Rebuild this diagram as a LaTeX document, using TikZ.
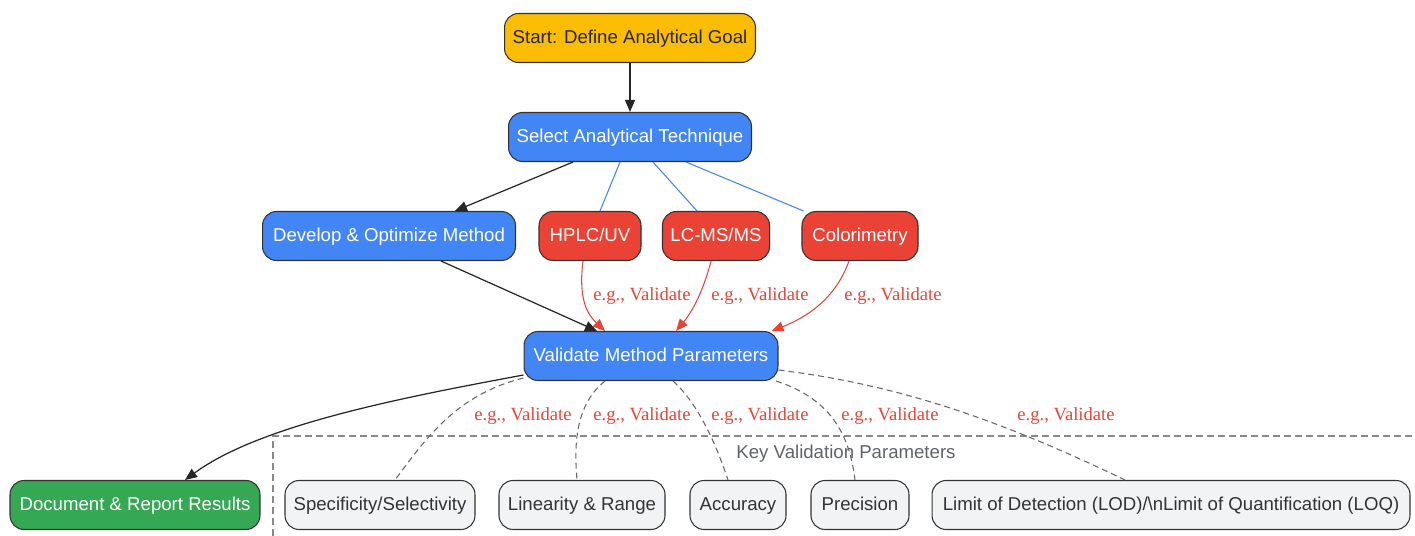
\documentclass[tikz,border=0pt]{standalone}
\usepackage{fontspec}
\setmainfont{Liberation Sans}
\newfontfamily\edgefont{Liberation Serif}
\usetikzlibrary{arrows.meta}
\definecolor{goalyellow}{HTML}{FBBC04}
\definecolor{stepblue}{HTML}{4285F4}
\definecolor{techred}{HTML}{EA4335}
\definecolor{reportgreen}{HTML}{34A853}
\definecolor{paramgrey}{HTML}{F1F3F4}
\definecolor{edgegrey}{HTML}{666666}
\definecolor{clustergrey}{HTML}{888888}
\definecolor{textgrey}{HTML}{5F6368}
\definecolor{inkdark}{HTML}{333333}
\tikzset{
    box/.style={draw=inkdark, line width=0.6pt, rounded corners=0.28cm,
        minimum height=0.98cm, inner xsep=0.16cm,
        text height=0.9em, text depth=0.22em,
        font=\fontsize{10.6}{12}\selectfont},
    goal/.style={box, fill=goalyellow, text=black!85},
    stage/.style={box, fill=stepblue, text=white},
    tech/.style={box, fill=techred, text=white},
    report/.style={box, fill=reportgreen, text=white},
    param/.style={box, fill=paramgrey, text=inkdark},
    eg/.style={text=techred, inner sep=1pt,
        font=\edgefont\fontsize{10.6}{12}\selectfont},
    flow/.style={draw=black!85, line width=0.7pt,
        -{Triangle[length=0.24cm,width=0.2cm]}},
    pick/.style={draw=stepblue, line width=0.6pt},
    redflow/.style={draw=techred, line width=0.6pt,
        -{Triangle[length=0.24cm,width=0.2cm]}},
    check/.style={draw=edgegrey, line width=0.6pt,
        dash pattern=on 0.12cm off 0.08cm},
    cluster/.style={draw=clustergrey, line width=0.7pt,
        dash pattern=on 0.14cm off 0.08cm}
}

\begin{document}
\begin{tikzpicture}[x=0.02cm, y=-0.02cm]
  \useasboundingbox (0,0) rectangle (1415,536);

  % cluster frame
  \draw[cluster] (273,536) -- (273,436) -- (1415,436);
  \node (key) [text=textgrey, font=\fontsize{10.6}{12}\selectfont] at (846,454) {Key Validation Parameters};

  \node (start) [goal, minimum width=5.02cm] at (630,38) {Start: Define Analytical Goal};
  \node (select) [stage, minimum width=4.86cm] at (630,137) {Select Analytical Technique};
  \node (develop) [stage, minimum width=5.06cm] at (389,236) {Develop \& Optimize Method};
  \node (hplc) [tech, minimum width=2.04cm] at (590,236) {HPLC/UV};
  \node (lcms) [tech, minimum width=2.14cm] at (716,236) {LC-MS/MS};
  \node (color) [tech, minimum width=2.32cm] at (860,236) {Colorimetry};
  \node (validate) [stage, minimum width=5.08cm] at (651,356) {Validate Method Parameters};
  \node (report) [report, minimum width=5.0cm] at (135,505) {Document \& Report Results};
  \node (spec) [param, minimum width=3.8cm] at (380,505) {Specificity/Selectivity};
  \node (lin) [param, minimum width=3.32cm] at (582,505) {Linearity \& Range};
  \node (acc) [param, minimum width=1.92cm] at (738,505) {Accuracy};
  \node (prec) [param, minimum width=1.96cm] at (860,505) {Precision};
  \node (lod) [param, minimum width=9.56cm] at (1171,505) {Limit of Detection (LOD)/\textbackslash nLimit of Quantification (LOQ)};

  \node (eg_hplc) [eg] at (642,296) {e.g., Validate};
  \node (eg_lcms) [eg] at (760,296) {e.g., Validate};
  \node (eg_color) [eg] at (893,296) {e.g., Validate};
  \node (eg_spec) [eg] at (523,416) {e.g., Validate};
  \node (eg_lin) [eg] at (642,416) {e.g., Validate};
  \node (eg_acc) [eg] at (760,416) {e.g., Validate};
  \node (eg_prec) [eg] at (890,416) {e.g., Validate};
  \node (eg_lod) [eg] at (1066,416) {e.g., Validate};

  \draw[flow] (start) -- (select);
  \draw[flow] ([xshift=-1.14cm]select.south) -- ([xshift=1.32cm]develop.north);
  \draw[pick] ([xshift=-0.2cm]select.south) -- ([xshift=0.2cm]hplc.north);
  \draw[pick] ([xshift=0.46cm]select.south) -- ([xshift=-0.38cm]lcms.north);
  \draw[pick] ([xshift=1.12cm]select.south) -- ([xshift=0.04cm]color.north west);
  \draw[flow] ([xshift=1.04cm]develop.south) -- ([xshift=-1.08cm]validate.north);

  \draw[redflow] ([xshift=-0.14cm]hplc.south) .. controls (578,300) and (588,315) .. ([xshift=-0.92cm]validate.north);
  \draw[redflow] ([xshift=-0.1cm]lcms.south) .. controls (703,292) and (692,312) .. ([xshift=0.5cm]validate.north);
  \draw[redflow] ([xshift=-0.22cm]color.south) .. controls (835,300) and (805,318) .. ([xshift=-0.14cm]validate.north east);

  \draw[flow] ([yshift=-0.38cm]validate.west) .. controls (400,398) and (260,425) .. ([xshift=1.0cm]report.north);

  \draw[check] ([yshift=-0.44cm]validate.west) .. controls (455,395) and (425,440) .. ([xshift=0.3cm]spec.north);
  \draw[check] ([xshift=-0.92cm]validate.south) .. controls (575,405) and (574,445) .. ([xshift=-0.1cm]lin.north);
  \draw[check] ([xshift=0.44cm]validate.south) .. controls (700,405) and (718,450) .. ([xshift=-0.2cm]acc.north);
  \draw[check] ([xshift=2.5cm]validate.south) .. controls (835,400) and (850,440) .. ([xshift=-0.1cm]prec.north);
  \draw[check] ([yshift=-0.28cm]validate.east) .. controls (900,385) and (1000,420) .. ([xshift=-0.92cm]lod.north);
\end{tikzpicture}
\end{document}
